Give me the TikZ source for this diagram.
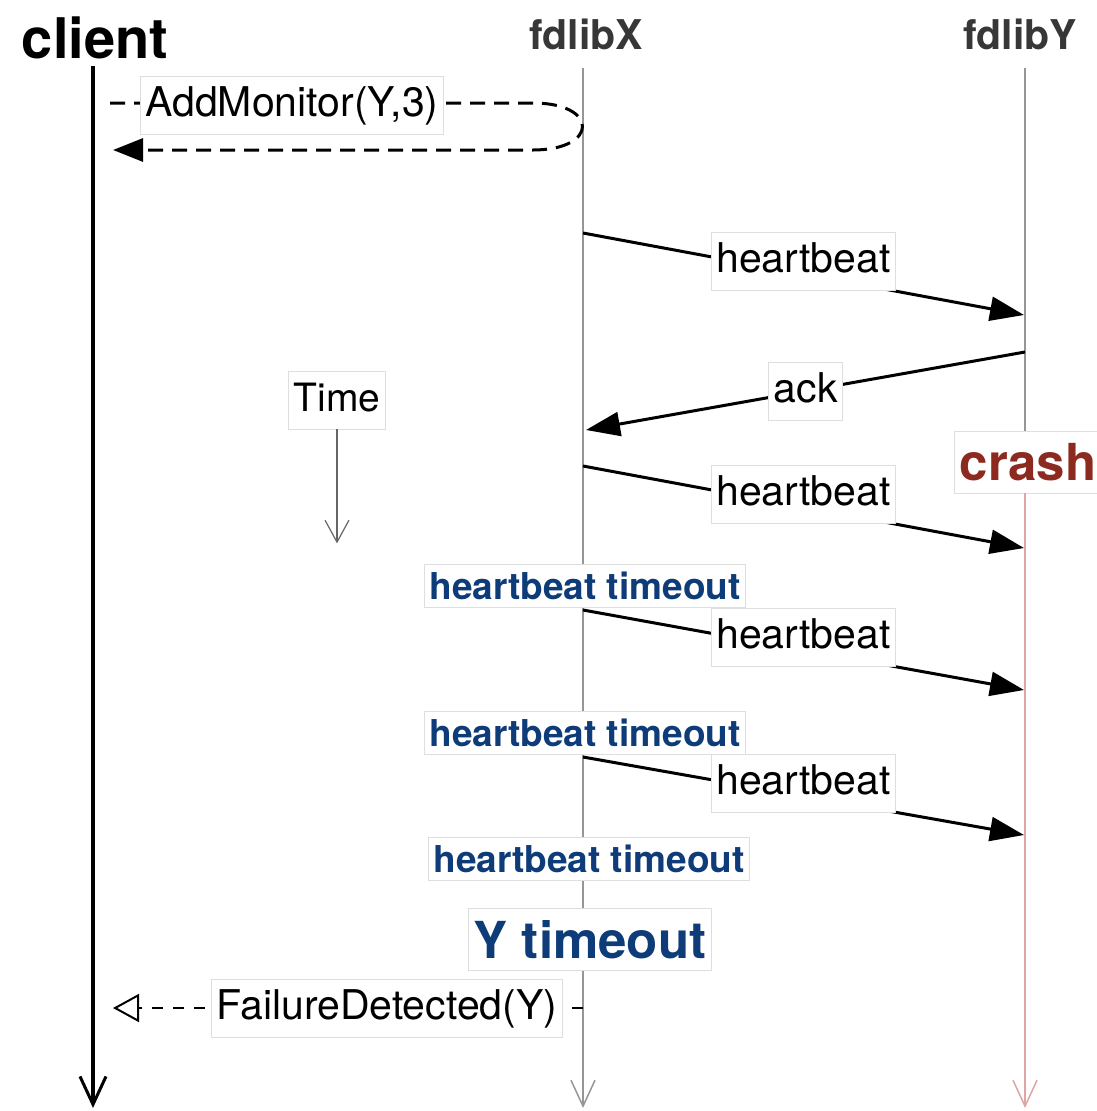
\documentclass[tikz,border=0pt]{standalone}
\usepackage{fontspec}
\setmainfont{TeX Gyre Heros}
\usepackage{xcolor}
\usetikzlibrary{arrows.meta, calc, positioning}

\definecolor{lifegray}{RGB}{150,150,150}
\definecolor{headgray}{RGB}{55,55,55}
\definecolor{tmoblue}{RGB}{14,60,120}
\definecolor{crashred}{RGB}{140,42,32}
\definecolor{deadpink}{RGB}{222,165,165}

\tikzset{
    lbl/.style={fill=white, draw=black!13, line width=0.8pt,
        inner xsep=5pt, inner ysep=10pt, text height=30pt, text depth=8pt,
        font=\fontsize{41}{49}\selectfont},
    tmo/.style={lbl, text=tmoblue, inner ysep=6pt, text height=29pt, text depth=2pt,
        font=\fontsize{37}{44}\selectfont\bfseries},
    head/.style={anchor=base, font=\fontsize{41}{49}\selectfont\bfseries},
    msg/.style={line width=3pt, -{Triangle[length=34pt, width=24pt]}},
    lifeline/.style={line width=2.5pt, lifegray, -{Straight Barb[length=26pt, width=24pt, line width=1.5pt]}},
}

\begin{document}
\begin{tikzpicture}[x=1pt, y=-1pt]
    \useasboundingbox (0,0) rectangle (1096,1111);

    % =================================================================
    % LIFELINES
    % =================================================================
    \node[head, font=\fontsize{56}{60}\selectfont\bfseries] (client) at (95,58) {client};
    \node[head, text=headgray] (fdX) at (586,49) {fdlibX};
    \node[head, text=headgray] (fdY) at (1020,49) {fdlibY};

    \coordinate (Ctop) at (93,66);   \coordinate (Cbot) at (93,1108);
    \coordinate (Xtop) at (583,68);  \coordinate (Xbot) at (583,1108);
    \coordinate (Ytop) at (1025,68); \coordinate (Ybot) at (1025,1108);

    \draw[line width=4pt, -{Straight Barb[length=28pt, width=26pt, line width=3pt]}] (Ctop) -- (Cbot);
    \draw[lifeline] (Xtop) -- (Xbot);

    % fdlibY dies: gray above the crash, pink below
    \node[lbl, text=crashred, inner ysep=12pt, text height=37pt, text depth=1pt,
        font=\fontsize{51}{56}\selectfont\bfseries] (crash) at (1028,462) {crash};
    \draw[line width=2.5pt, lifegray] (Ytop) -- (Ytop |- crash.north);
    \draw[lifeline, deadpink] (Ytop |- crash.south) -- (Ybot);

    % =================================================================
    % CLIENT <-> fdlibX
    % =================================================================
    \coordinate (amS) at (110,103);
    \coordinate (amT) at (583,126);
    \coordinate (amE) at (113,150);
    \draw[line width=3pt, dash pattern=on 15pt off 9pt, -{Triangle[length=30pt, width=23pt]}]
        (amS) -- ($(amT)+(-50,-23)$) .. controls +(66,0) and +(66,0) .. ($(amT)+(-50,24)$) -- (amE);
    \node[lbl] (addmon) at (292,105) {AddMonitor(Y,3)};

    \coordinate (fdS) at (583,1008);
    \coordinate (fdE) at (113,1008);
    \draw[line width=2pt, dash pattern=on 11pt off 10pt,
        -{Triangle[open, length=26pt, width=28pt, line width=2pt]}] (fdS) -- (fdE);
    \node[lbl] (faildet) at (387,1008) {FailureDetected(Y)};

    % =================================================================
    % HEARTBEATS fdlibX -> fdlibY
    % =================================================================
    \foreach \i/\ys/\ye in {1/233/315, 2/466/548, 3/610/690, 4/757/835} {
        \coordinate (hbS\i) at (583,\ys);
        \coordinate (hbE\i) at (1024,\ye);
        \draw[msg] (hbS\i) -- node[lbl, yshift=13pt] (hb\i) {heartbeat} (hbE\i);
    }

    % ack back to fdlibX
    \coordinate (ackS) at (1025,352);
    \coordinate (ackE) at (586,430);
    \draw[msg] (ackS) -- node[lbl] (ack) {ack} (ackE);

    % =================================================================
    % TIMEOUTS ON fdlibX
    % =================================================================
    \foreach \i/\x/\y in {1/585/586, 2/585/733, 3/589/859} {
        \node[tmo] (tmo\i) at (\x,\y) {heartbeat timeout};
    }
    \node[lbl, text=tmoblue, inner ysep=11pt, text height=39pt, text depth=1pt,
        font=\fontsize{51}{56}\selectfont\bfseries] (ytmo) at (590,939) {Y timeout};

    % =================================================================
    % TIME AXIS
    % =================================================================
    \node[lbl, font=\fontsize{39}{46}\selectfont] (time) at (337,400) {Time};
    \draw[line width=1.5pt, black!60, -{Straight Barb[length=22pt, width=24pt, line width=1.2pt]}]
        (time.south) -- ++(0,114);

\end{tikzpicture}
\end{document}
